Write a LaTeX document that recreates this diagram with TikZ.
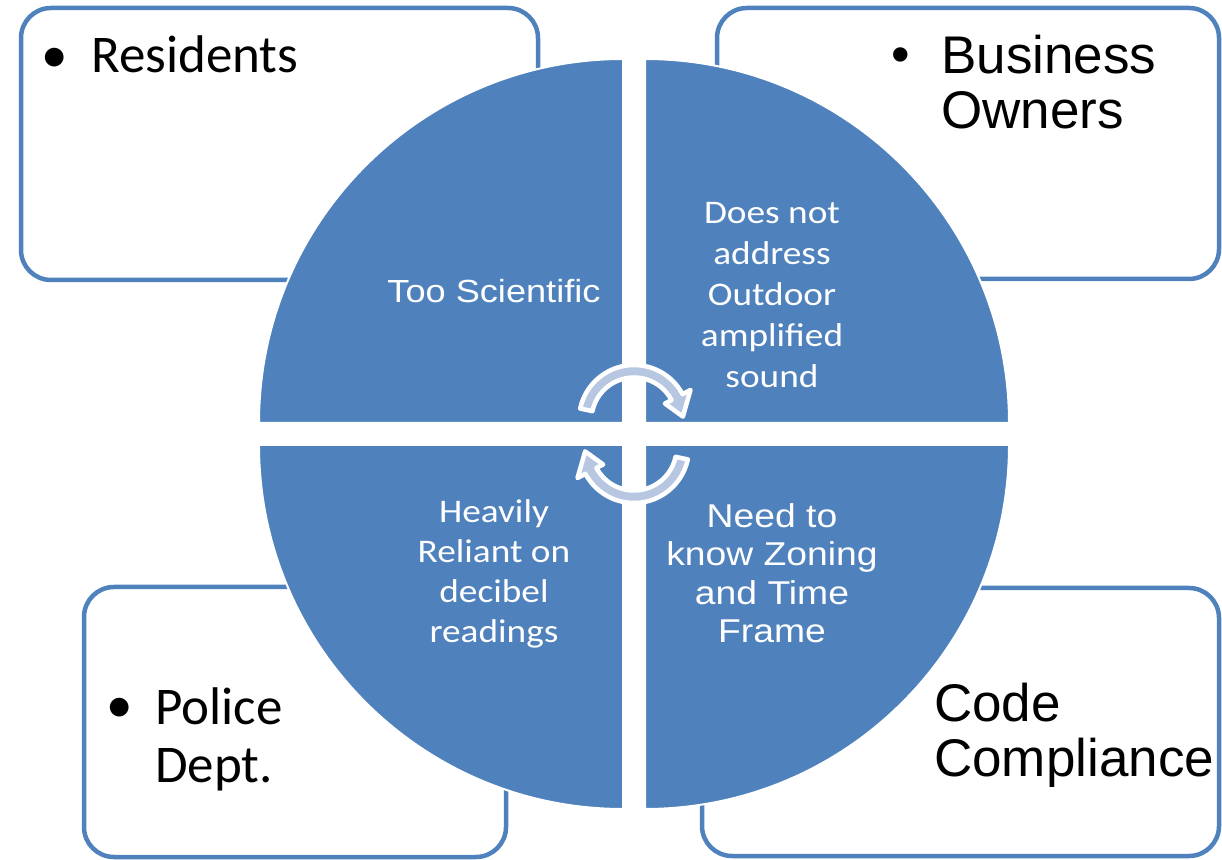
\documentclass[tikz,border=0pt]{standalone}
\usepackage{fontspec}
\newfontfamily\calibrif{Carlito}
\newfontfamily\arialf{Liberation Sans}
\newfontfamily\calibriw[FakeStretch=1.13]{Carlito}
\newfontfamily\arialw[FakeStretch=1.13]{Liberation Sans}
\definecolor{ofblue}{RGB}{79,129,189}
\definecolor{ofpale}{RGB}{183,199,225}
\begin{document}
\begin{tikzpicture}[x=1pt,y=1pt,
 lbox/.style={draw=ofblue,line width=4.5,rounded corners=30},
 slice/.style={fill=ofblue,draw=white,line width=2},
 turn/.style={fill=ofpale,draw=white,line width=4.5,line join=round},
 big/.style={inner sep=0,font=#1\fontsize{53}{55}\selectfont},
 inner/.style={inner sep=0,text=white,align=center,anchor=north}]
 \useasboundingbox (0,0) rectangle (1222,859);
 \draw[lbox]
 (21,579) rectangle (538,851)
 (717,580) rectangle (1219,851)
 (84,2) rectangle (506,272)
 (702,3) rectangle (1219,271);
 \path[slice] (623,436)--(259,436) arc[start angle=180,end angle=90,radius=364]--cycle;
 \path[slice] (645,436)--(645,800) arc[start angle=90,end angle=0,radius=364]--cycle;
 \path[slice] (645,414)--(1009,414) arc[start angle=0,end angle=-90,radius=364]--cycle;
 \path[slice] (623,414)--(623,50) arc[start angle=270,end angle=180,radius=364]--cycle;
 \path
 (55,786) node[big=\calibrif,anchor=base] (resdot) {•} % <<< box 1
 (91,786) node[big=\calibrif,anchor=base west] (res) {Residents}
 (901,786) node[big=\arialf,anchor=base] (bizdot) {•} % <<< box 2
 (941,824) node[big=\arialf,anchor=north west,align=left] (biz) {Business\\Owners}
 (120,137) node[big=\calibrif,anchor=base] (poldot) {•} % <<< box 3
 (155,172) node[big=\calibrif,anchor=north west,align=left,
   font=\calibrif\fontsize{53}{58}\selectfont] (pol) {Police\\Dept.}
 (934,176) node[big=\arialf,anchor=north west,align=left] (code) {Code\\Compliance} % <<< box 4
 (494,556) node[inner sep=0,text=white,anchor=base,
   font=\arialw\fontsize{32}{38}\selectfont] (sci) {Too Scientific}
 (772,657) node[inner,font=\calibriw\fontsize{33}{41}\selectfont] (amp)
   {Does not\\address\\Outdoor\\amplified\\sound}
 (494,360) node[inner,font=\calibriw\fontsize{33}{40}\selectfont] (dec)
   {Heavily\\Reliant on\\decibel\\readings}
 (772,356) node[inner,font=\arialw\fontsize{33}{38.5}\selectfont] (zon)
   {Need to\\know Zoning\\and Time\\Frame};
 \begin{scope}[shift={(634,439)}]
 \path[turn] (168:55) arc[start angle=168,end angle=28,radius=55]
   --(28:64)--(4:49)--(28:35)--(28:42.5)
   arc[start angle=28,end angle=168,radius=42.5]--cycle;
 \end{scope}
 \begin{scope}[shift={(634,411)}]
 \path[turn] (348:55) arc[start angle=348,end angle=208,radius=55]
   --(208:64)--(184:49)--(208:35)--(208:42.5)
   arc[start angle=208,end angle=348,radius=42.5]--cycle;
 \end{scope}
\end{tikzpicture}
\end{document}
